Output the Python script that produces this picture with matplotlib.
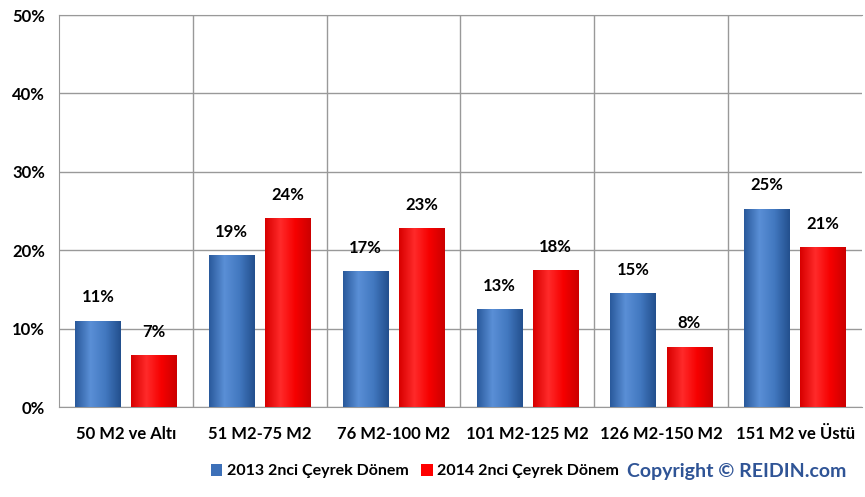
import numpy as np
import matplotlib
matplotlib.use("Agg")
import matplotlib.pyplot as plt
from matplotlib.colors import LinearSegmentedColormap

categories = ["50 M2 ve Altı", "51 M2-75 M2", "76 M2-100 M2",
              "101 M2-125 M2", "126 M2-150 M2", "151 M2 ve Üstü"]
vals_2013 = [11.0, 19.4, 17.3, 12.5, 14.5, 25.3]
vals_2014 = [6.6, 24.1, 22.8, 17.5, 7.7, 20.4]
labels_2013 = ["11%", "19%", "17%", "13%", "15%", "25%"]
labels_2014 = ["7%", "24%", "23%", "18%", "8%", "21%"]
series_names = ["2013 2nci Çeyrek Dönem", "2014 2nci Çeyrek Dönem"]
yticks = [0, 10, 20, 30, 40, 50]

plt.rcParams['font.family'] = ['Lato', 'DejaVu Sans']

fig = plt.figure(figsize=(8.65, 4.97), dpi=100)
ax = fig.add_axes([59 / 865, 1 - 407 / 497, 803 / 865, 392 / 497])

x = np.arange(len(categories))
w = 0.34
off = 0.21

blue_cmap = LinearSegmentedColormap.from_list("b", ["#2a5a9c", "#5a8fd6", "#4278c0", "#23508e"])
red_cmap = LinearSegmentedColormap.from_list("r", ["#d80000", "#ff2a2a", "#f60000", "#cc0000"])

def shaded_bars(xs, vals, color, cmap):
    bars = ax.bar(xs, vals, w, color=color, zorder=3, edgecolor="none")
    grad = np.linspace(0, 1, 64).reshape(1, -1)
    for b in bars:
        x0, y0 = b.get_x(), b.get_y()
        im = ax.imshow(grad, cmap=cmap, aspect="auto", zorder=3.5,
                       extent=[x0, x0 + b.get_width(), y0, y0 + b.get_height()])
        im.set_clip_path(b)
    return bars

b1 = shaded_bars(x - off, vals_2013, "#3d70b8", blue_cmap)
b2 = shaded_bars(x + off, vals_2014, "#ff0000", red_cmap)

for xs, vals, labs in [(x - off, vals_2013, labels_2013), (x + off, vals_2014, labels_2014)]:
    for xi, v, lab in zip(xs, vals, labs):
        ax.annotate(lab, (xi, v), xytext=(0, 11), textcoords="offset points",
                    ha="center", va="bottom", fontsize=12, fontweight="bold")

ax.set_xlim(-0.5, len(categories) - 0.5)
ax.set_ylim(0, 50)
ax.set_yticks(yticks)
ax.set_yticklabels([f"{t}%" for t in yticks], fontsize=12, fontweight="bold")
ax.set_xticks(x)
ax.set_xticklabels(categories, fontsize=12, fontweight="bold")
ax.tick_params(length=0, pad=10)
ax.tick_params(axis="x", pad=14)

ax.grid(axis="y", color="#999999", linewidth=1, zorder=0)
for xv in np.arange(0.5, len(categories) - 0.5, 1):
    ax.axvline(xv, color="#999999", linewidth=1, zorder=0)
for s in ["top", "left", "bottom"]:
    ax.spines[s].set_color("#999999")
ax.spines["right"].set_visible(False)

fig.legend([b1, b2], series_names, loc="center", bbox_to_anchor=(415 / 865, 1 - 471 / 497),
           ncol=2, frameon=False, handlelength=0.7, handleheight=0.8,
           handletextpad=0.3, columnspacing=0.8, prop={"weight": "bold", "size": 11.5})

fig.text(737 / 865, 1 - 472 / 497, "Copyright © REIDIN.com", ha="center", va="center",
         fontsize=14, fontweight="bold", color="#2f5496")

fig.savefig("out.png", dpi=100)
